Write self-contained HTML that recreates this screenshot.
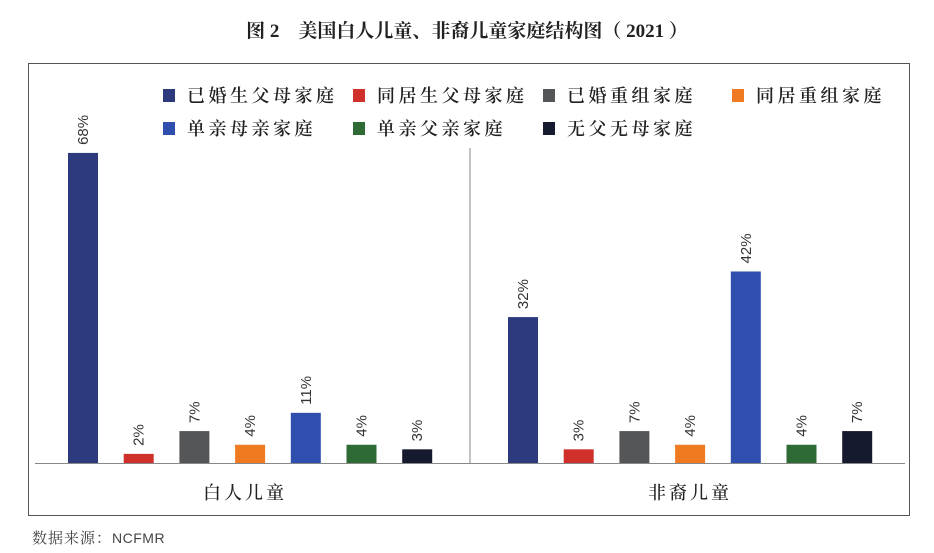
<!DOCTYPE html>
<html><head><meta charset="utf-8"><style>
html,body{margin:0;padding:0;background:#fff;}
svg{display:block;}
.cjk{font-family:"Liberation Serif","Noto Serif CJK SC",serif;}
.sans{font-family:"Liberation Sans","Noto Sans CJK SC",sans-serif;}
</style></head><body>
<svg id="chart" width="934" height="553" viewBox="0 0 934 553">
<text x="467" y="37" text-anchor="middle" class="cjk" font-size="19" font-weight="bold" fill="#222">图 2　美国白人儿童、非裔儿童家庭结构图（ 2021 ）</text>
<rect x="28.5" y="63.5" width="881" height="452" fill="none" stroke="#555" stroke-width="1"/>
<line x1="470" y1="148" x2="470" y2="463" stroke="#888" stroke-width="1"/>
<line x1="35" y1="463.5" x2="905" y2="463.5" stroke="#888" stroke-width="1"/>
<g id="legend"></g>
<g id="bars"></g>
<text x="245" y="499" text-anchor="middle" class="cjk" font-size="18" font-weight="500" letter-spacing="3" fill="#222">白人儿童</text>
<text x="690" y="499" text-anchor="middle" class="cjk" font-size="18" font-weight="500" letter-spacing="3" fill="#222">非裔儿童</text>
<text x="32" y="543" class="cjk" font-size="15" fill="#444" letter-spacing="1">数据来源：<tspan class="sans" font-size="14" letter-spacing="0.5">NCFMR</tspan></text>
</svg>
<script>
const groups = ["白人儿童","非裔儿童"];
const series = ["已婚生父母家庭","同居生父母家庭","已婚重组家庭","同居重组家庭","单亲母亲家庭","单亲父亲家庭","无父无母家庭"];
const whiteValues = [68,2,7,4,11,4,3];
const blackValues = [32,3,7,4,42,4,7];
const colors = ["#2e3a7e","#d0302a","#555657","#f07a22","#2f4ead","#2e6b34","#161a2e"];
const NS="http://www.w3.org/2000/svg";
const base=463, pxPer=4.56;
function y(v){return base-v*pxPer;}
function x(g,i){return 68+g*440+i*55.7;}
const barsG=document.getElementById('bars');
[whiteValues,blackValues].forEach((vals,g)=>{
  vals.forEach((v,i)=>{
    const r=document.createElementNS(NS,'rect');
    r.setAttribute('x',x(g,i));r.setAttribute('y',y(v));
    r.setAttribute('width',30);r.setAttribute('height',base-y(v));
    r.setAttribute('fill',colors[i]);
    
    
    barsG.appendChild(r);
    const t=document.createElementNS(NS,'text');
    const cx=x(g,i)+15+5, cy=y(v)-8;
    t.setAttribute('x',cx);t.setAttribute('y',cy);
    t.setAttribute('transform','rotate(-90 '+cx+' '+cy+')');
    t.setAttribute('class','sans');t.setAttribute('font-size','15');t.setAttribute('fill','#333');
    t.textContent=v+'%';
    
    
    barsG.appendChild(t);
  });
});
const lg=document.getElementById('legend');
const pos=[[163,95],[353,95],[543,95],[732,95],[163,128],[353,128],[543,128]];
series.forEach((s,i)=>{
  const [lx,ly]=pos[i];
  const r=document.createElementNS(NS,'rect');
  r.setAttribute('x',lx);r.setAttribute('y',ly-6);r.setAttribute('width',12);r.setAttribute('height',13);
  r.setAttribute('fill',colors[i]);
  
  
  lg.appendChild(r);
  const t=document.createElementNS(NS,'text');
  t.setAttribute('x',lx+24);t.setAttribute('y',ly+7);
  t.setAttribute('class','cjk');t.setAttribute('font-size','18');t.setAttribute('font-weight','600');t.setAttribute('letter-spacing','3.5');t.setAttribute('fill','#222');
  t.textContent=s;
  
  
  lg.appendChild(t);
});
</script>
</body></html>
